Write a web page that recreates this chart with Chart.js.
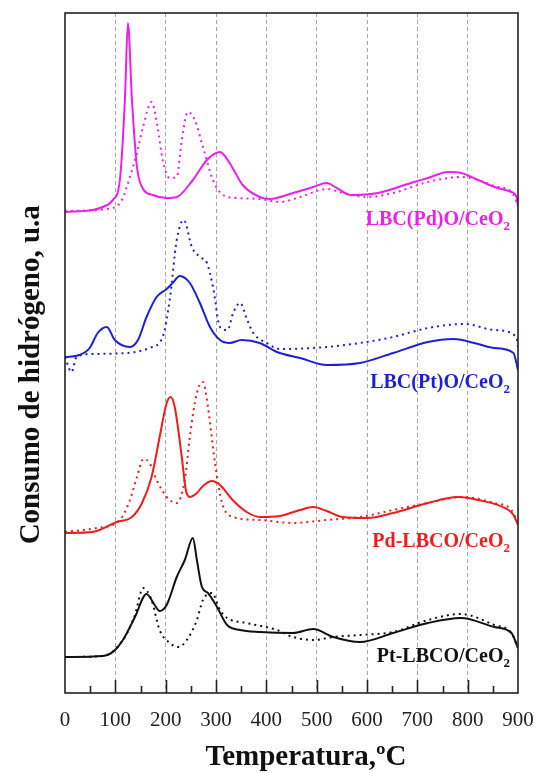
<!DOCTYPE html>
<html>
<head>
<meta charset="utf-8">
<script src="https://cdn.jsdelivr.net/npm/chart.js@4"></script>
<style>
  html, body { margin: 0; padding: 0; background: #fff; }
  canvas { display: block; }
</style>
</head>
<body>
<canvas id="tpr" width="538" height="773"></canvas>
<script>
// Temperature (ºC) and hydrogen consumption (a.u., curves stacked with offsets)

const pdOxSolidT = [0, 55, 75, 95, 109, 119, 125, 133, 143, 154, 174, 202, 222, 254, 282, 308, 327, 353, 387, 407, 453, 493, 520, 540, 568, 622, 687, 721, 761, 787, 821, 853, 887, 897, 900]
const pdOxSolidH = [481, 483, 486, 493, 513, 593, 670, 593, 526, 505, 498, 495, 496, 513, 533, 541, 530, 508, 496, 494, 500, 506, 510, 505, 498, 500, 510, 515, 521, 520, 513, 506, 501, 496, 486]
const pdOxDotT = [0, 95, 113, 129, 143, 155, 172, 184, 194, 208, 222, 232, 244, 258, 274, 294, 314, 342, 387, 427, 467, 520, 552, 600, 652, 721, 787, 821, 853, 887, 900]
const pdOxDotH = [482, 485, 493, 516, 540, 566, 591, 566, 533, 515, 516, 553, 581, 573, 546, 513, 498, 495, 494, 491, 496, 504, 500, 496, 500, 511, 516, 513, 507, 501, 488]

const ptOxSolidT = [0, 29, 49, 65, 83, 99, 129, 145, 162, 182, 202, 214, 228, 248, 268, 288, 308, 327, 351, 387, 421, 467, 520, 586, 652, 721, 772, 821, 853, 891, 900]
const ptOxSolidH = [336, 338, 345, 360, 366, 353, 346, 353, 376, 396, 404, 410, 417, 410, 390, 366, 353, 350, 353, 350, 341, 335, 328, 330, 340, 351, 354, 349, 345, 340, 323]
const ptOxDotT = [0, 13, 23, 55, 123, 168, 194, 208, 222, 236, 252, 268, 282, 294, 308, 323, 334, 348, 362, 374, 401, 427, 520, 586, 652, 721, 793, 853, 897, 900]
const ptOxDotH = [336, 321, 336, 339, 340, 345, 356, 393, 453, 473, 446, 436, 430, 406, 366, 363, 380, 390, 373, 360, 350, 344, 346, 350, 356, 365, 369, 363, 356, 346]

const pdLbcoSolidT = [0, 55, 103, 133, 153, 172, 188, 202, 210, 218, 232, 240, 248, 262, 274, 292, 308, 333, 361, 387, 427, 467, 493, 520, 552, 600, 652, 721, 781, 821, 881, 891, 900]
const pdLbcoSolidH = [160, 161, 171, 176, 190, 216, 256, 290, 296, 286, 236, 203, 196, 200, 207, 212, 208, 193, 181, 176, 177, 183, 186, 182, 176, 175, 180, 190, 196, 193, 183, 178, 168]
const pdLbcoDotT = [0, 63, 109, 129, 143, 156, 168, 182, 202, 222, 238, 248, 262, 274, 284, 298, 312, 334, 387, 453, 520, 586, 652, 721, 787, 853, 887, 900]
const pdLbcoDotH = [161, 165, 173, 193, 216, 234, 230, 213, 196, 190, 213, 256, 300, 311, 286, 230, 190, 176, 173, 170, 173, 176, 183, 190, 196, 190, 183, 170]

const ptLbcoSolidT = [0, 75, 95, 115, 139, 162, 178, 188, 202, 222, 238, 254, 262, 272, 284, 302, 322, 348, 387, 453, 493, 533, 586, 652, 721, 787, 853, 887, 900]
const ptLbcoSolidH = [36, 37, 41, 53, 76, 99, 88, 82, 88, 116, 133, 155, 133, 106, 100, 86, 68, 63, 61, 60, 64, 56, 51, 60, 70, 75, 66, 60, 45]
const ptLbcoDotT = [0, 75, 115, 139, 155, 172, 188, 208, 225, 242, 262, 274, 292, 308, 322, 361, 421, 453, 493, 533, 586, 652, 721, 787, 853, 887, 900]
const ptLbcoDotH = [36, 37, 53, 78, 105, 93, 63, 50, 46, 53, 73, 93, 100, 83, 75, 70, 63, 56, 53, 56, 58, 61, 73, 79, 68, 60, 45]

const sampleNames = ['LBC(Pd)O/CeO', 'LBC(Pt)O/CeO', 'Pd-LBCO/CeO', 'Pt-LBCO/CeO']
const sampleColors = ['#ee1fe8', '#1f1fd6', '#ee1c1c', '#111111']
const nameAnchorT = 884
const nameAnchorH = [468, 305, 146, 31]

const toPoints = (ts, hs) => ts.map((t, i) => ({ x: t, y: hs[i] }))

function curve(label, ts, hs, color, dotted) {
  return {
    label,
    data: toPoints(ts, hs),
    borderColor: color,
    borderWidth: 2,
    borderDash: dotted ? [2, 4] : [],
    pointRadius: 0,
    fill: false,
    cubicInterpolationMode: 'monotone'
  }
}

const framePlugin = {
  id: 'frame',
  afterDraw(chart) {
    const { ctx, chartArea: a, scales: { x, y } } = chart
    ctx.save()
    ctx.strokeStyle = '#222'
    ctx.lineWidth = 1.6
    ctx.strokeRect(a.left, a.top, a.right - a.left, a.bottom - a.top)
    // inward tick marks on the temperature axis
    for (let t = 50; t < 900; t += 50) {
      const px = Math.round(x.getPixelForValue(t)) + 0.5
      const len = t % 100 === 0 ? 13 : 7
      ctx.beginPath()
      ctx.moveTo(px, a.bottom)
      ctx.lineTo(px, a.bottom - len)
      ctx.stroke()
    }
    // sample names with CeO2 subscript
    ctx.textBaseline = 'alphabetic'
    sampleNames.forEach((name, i) => {
      const big = "bold 20px 'Liberation Serif', 'Times New Roman', serif"
      const small = "bold 13px 'Liberation Serif', 'Times New Roman', serif"
      ctx.font = small
      const wSub = ctx.measureText('2').width
      ctx.font = big
      const wMain = ctx.measureText(name).width
      const right = x.getPixelForValue(nameAnchorT)
      const base = y.getPixelForValue(nameAnchorH[i])
      ctx.fillStyle = sampleColors[i]
      ctx.textAlign = 'left'
      ctx.fillText(name, right - wSub - wMain, base)
      ctx.font = small
      ctx.fillText('2', right - wSub, base + 5)
    })
    ctx.restore()
  }
}

new Chart(document.getElementById('tpr'), {
  type: 'line',
  data: {
    datasets: [
      curve('LBC(Pd)O/CeO2', pdOxSolidT, pdOxSolidH, sampleColors[0], false),
      curve('LBC(Pd)O/CeO2 (punteada)', pdOxDotT, pdOxDotH, sampleColors[0], true),
      curve('LBC(Pt)O/CeO2', ptOxSolidT, ptOxSolidH, sampleColors[1], false),
      curve('LBC(Pt)O/CeO2 (punteada)', ptOxDotT, ptOxDotH, sampleColors[1], true),
      curve('Pd-LBCO/CeO2', pdLbcoSolidT, pdLbcoSolidH, sampleColors[2], false),
      curve('Pd-LBCO/CeO2 (punteada)', pdLbcoDotT, pdLbcoDotH, sampleColors[2], true),
      curve('Pt-LBCO/CeO2', ptLbcoSolidT, ptLbcoSolidH, sampleColors[3], false),
      curve('Pt-LBCO/CeO2 (punteada)', ptLbcoDotT, ptLbcoDotH, sampleColors[3], true)
    ]
  },
  options: {
    responsive: false,
    animation: false,
    devicePixelRatio: 1,
    layout: { padding: { top: 13, right: 20, left: 0, bottom: 0 } },
    plugins: {
      legend: { display: false },
      tooltip: { enabled: false }
    },
    scales: {
      x: {
        type: 'linear',
        min: 0,
        max: 900,
        afterFit: scale => {
          scale.height = 80
          scale.paddingLeft = 0
          scale.paddingRight = 0
        },
        border: { display: false, dash: [4, 3] },
        grid: {
          drawTicks: false,
          lineWidth: 1,
          color: c => (c.tick && c.tick.value % 100 === 0 && c.tick.value > 0 && c.tick.value < 900) ? '#a8a8a8' : 'rgba(0,0,0,0)'
        },
        ticks: {
          stepSize: 50,
          autoSkip: false,
          maxRotation: 0,
          padding: 15,
          color: '#222',
          font: { family: "'Liberation Serif', 'Times New Roman', serif", size: 21 },
          callback: v => (v % 100 === 0 ? v : '')
        },
        title: {
          display: true,
          text: '    Temperatura,ºC',
          color: '#111',
          padding: { top: 0, bottom: 0 },
          font: { family: "'Liberation Serif', 'Times New Roman', serif", size: 29, weight: 'bold', lineHeight: 1.1 }
        }
      },
      y: {
        min: 0,
        max: 680,
        afterFit: scale => { scale.width = 65 },
        border: { display: false },
        grid: { display: false },
        ticks: { display: false },
        title: {
          display: true,
          text: 'Consumo de hidrógeno, u.a      ',
          color: '#111',
          padding: { top: 14, bottom: 0 },
          font: { family: "'Liberation Serif', 'Times New Roman', serif", size: 29, weight: 'bold' }
        }
      }
    }
  },
  plugins: [framePlugin]
})
</script>
</body>
</html>
